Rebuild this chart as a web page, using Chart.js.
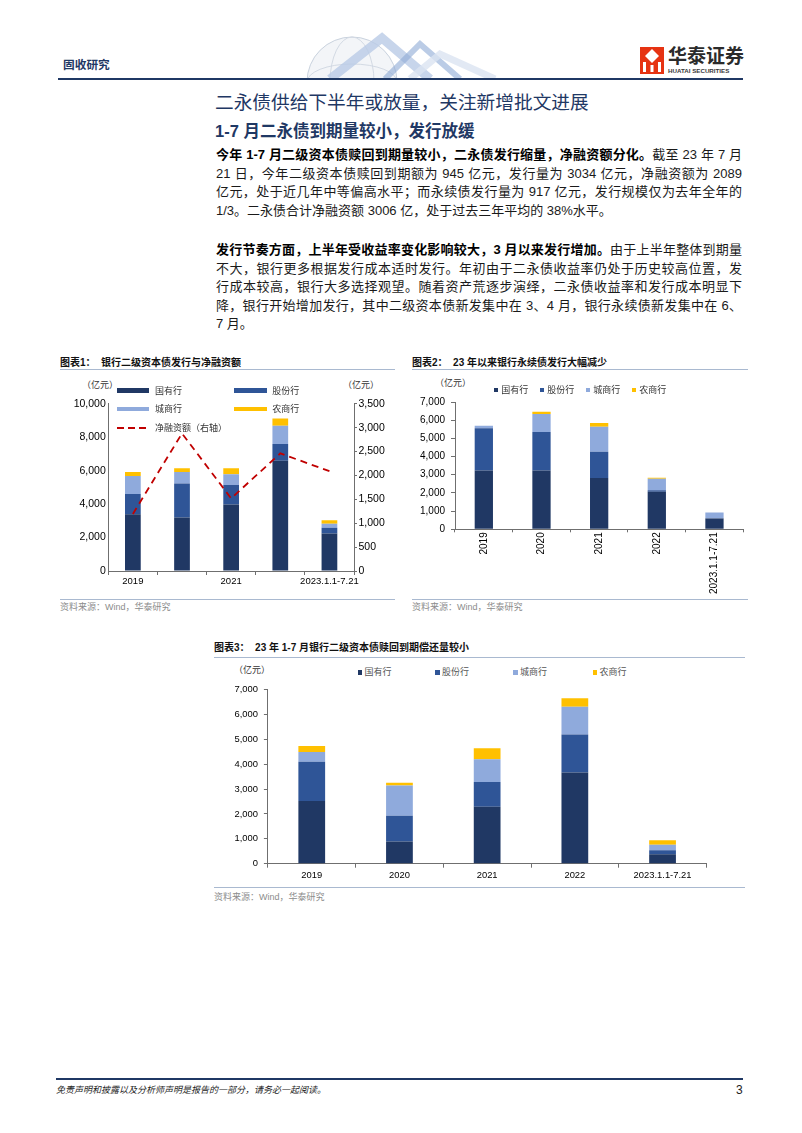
<!DOCTYPE html>
<html lang="zh-CN">
<head>
<meta charset="utf-8">
<title>固收研究</title>
<script src="https://cdn.jsdelivr.net/npm/chart.js@4.4.1/dist/chart.umd.min.js"></script>
<style>
  html, body { margin: 0; padding: 0; background: #fff; }
  #page { position: relative; width: 802px; height: 1133px; overflow: hidden; background: #fff;
          font-family: "Liberation Sans", Arial, "Noto Sans CJK SC", sans-serif; color: #1a1a1a; }
  .a { position: absolute; white-space: nowrap; }
  .navy { color: #1f3864; }
  .ln { position: absolute; left: 216px; width: 526px; height: 18.5px; line-height: 18.5px; font-size: 13px;
        text-align: justify; text-align-last: justify; }
  .ln.last { text-align-last: left; }
  .ln b { font-weight: bold; color: #000; }
  .ctitle { font-size: 10px; font-weight: bold; color: #111; line-height: 12px; }
  .src { font-size: 9px; color: #8c8c8c; line-height: 12px; }
  .rule { position: absolute; height: 1px; background: #a9b9d0; }
  .unit { font-size: 9px; color: #333; line-height: 12px; }
  .leg { font-size: 9px; color: #333; line-height: 12px; }
  canvas { position: absolute; }
</style>
</head>
<body>
<div id="page">
  <!-- ---------- HEADER ---------- -->
  <svg class="a" style="left:290px;top:30px" width="240" height="49">
    <circle cx="62" cy="52" r="45" fill="#f3f5f8" stroke="#c9d2de" stroke-width="1"/>
    <ellipse cx="62" cy="52" rx="22" ry="45" fill="none" stroke="#d3dae4" stroke-width="1"/>
    <ellipse cx="62" cy="52" rx="45" ry="18" fill="none" stroke="#d3dae4" stroke-width="1"/>
    <path d="M40 49 L92 8 L140 49" fill="none" stroke="#b9cbe6" stroke-width="9" opacity="0.8"/>
    <path d="M95 49 L130 14 L170 49" fill="none" stroke="#8eaad6" stroke-width="6" opacity="0.6"/>
    <path d="M120 49 L150 24 L205 49" fill="none" stroke="#dbe4f1" stroke-width="7" opacity="0.8"/>
  </svg>
  <div class="a navy" style="left:63px;top:58px;font-size:11.7px;font-weight:bold;line-height:14px;">固收研究</div>
  <div class="a" style="left:58px;top:78px;width:685px;height:2px;background:#1f3864;"></div>
  <svg class="a" style="left:640px;top:47px" width="24" height="27">
    <rect x="0" y="0" width="24" height="27" fill="#e63312"/>
    <polygon points="12,2 19,9 12,16 5,9" fill="#fff"/>
    <rect x="3" y="15" width="3" height="10" fill="#fff"/>
    <rect x="10.5" y="18" width="3" height="7" fill="#fff"/>
    <rect x="18" y="15" width="3" height="10" fill="#fff"/>
  </svg>
  <div class="a" style="left:668px;top:44px;font-size:19px;font-weight:bold;color:#2b2b2b;line-height:22px;font-family:'Noto Sans CJK SC';">华泰证券</div>
  <div class="a" style="left:668px;top:67px;font-size:6.2px;font-weight:bold;color:#3a3a3a;line-height:7px;">HUATAI SECURITIES</div>

  <!-- ---------- TITLES ---------- -->
  <div class="a navy" style="left:215px;top:91px;font-size:18.7px;line-height:24px;">二永债供给下半年或放量，关注新增批文进展</div>
  <div class="a navy" style="left:215px;top:120px;font-size:16.5px;font-weight:bold;line-height:22px;">1-7 月二永债到期量较小，发行放缓</div>

  <!-- ---------- BODY ---------- -->
  <div class="ln" style="top:146.2px;"><b>今年 1-7 月二级资本债赎回到期量较小，二永债发行缩量，净融资额分化。</b>截至 23 年 7 月</div>
  <div class="ln" style="top:164.7px;">21 日，今年二级资本债赎回到期额为 945 亿元，发行量为 3034 亿元，净融资额为 2089</div>
  <div class="ln" style="top:183.2px;">亿元，处于近几年中等偏高水平；而永续债发行量为 917 亿元，发行规模仅为去年全年的</div>
  <div class="ln last" style="top:201.7px;">1/3。二永债合计净融资额 3006 亿，处于过去三年平均的 38%水平。</div>

  <div class="ln" style="top:241.2px;"><b>发行节奏方面，上半年受收益率变化影响较大，3 月以来发行增加。</b>由于上半年整体到期量</div>
  <div class="ln" style="top:259.7px;">不大，银行更多根据发行成本适时发行。年初由于二永债收益率仍处于历史较高位置，发</div>
  <div class="ln" style="top:278.2px;">行成本较高，银行大多选择观望。随着资产荒逐步演绎，二永债收益率和发行成本明显下</div>
  <div class="ln" style="top:296.7px;">降，银行开始增加发行，其中二级资本债新发集中在 3、4 月，银行永续债新发集中在 6、</div>
  <div class="ln last" style="top:315.2px;">7 月。</div>

  <!-- ---------- CHART 1 ---------- -->
  <div class="a ctitle" style="left:60px;top:356.7px;">图表1：&nbsp;&nbsp;银行二级资本债发行与净融资额</div>
  <div class="rule" style="left:60px;top:369px;width:335px;"></div>
  <div class="a unit" style="left:82px;top:379px;">（亿元）</div>
  <div class="a unit" style="left:343px;top:379px;">（亿元）</div>
  <canvas id="c1" width="340" height="200" style="left:60px;top:395px;width:340px;height:200px;"></canvas>
  <div class="rule" style="left:60px;top:599px;width:335px;"></div>
  <div class="a src" style="left:60px;top:601px;">资料来源：Wind，华泰研究</div>

  <!-- ---------- CHART 2 ---------- -->
  <div class="a ctitle" style="left:412px;top:356.7px;">图表2：&nbsp;&nbsp;23 年以来银行永续债发行大幅减少</div>
  <div class="rule" style="left:412px;top:369px;width:336px;"></div>
  <div class="a unit" style="left:435px;top:377px;">（亿元）</div>
  <canvas id="c2" width="345" height="205" style="left:405px;top:390px;width:345px;height:205px;"></canvas>
  <div class="rule" style="left:412px;top:599px;width:336px;"></div>
  <div class="a src" style="left:412px;top:601px;">资料来源：Wind，华泰研究</div>

  <!-- ---------- CHART 3 ---------- -->
  <div class="a ctitle" style="left:214px;top:642px;">图表3：&nbsp;&nbsp;23 年 1-7 月银行二级资本债赎回到期偿还量较小</div>
  <div class="rule" style="left:214px;top:656.7px;width:531px;"></div>
  <div class="a unit" style="left:234px;top:664px;">（亿元）</div>
  <canvas id="c3" width="535" height="205" style="left:213px;top:678px;width:535px;height:205px;"></canvas>
  <div class="rule" style="left:214px;top:886.7px;width:531px;"></div>
  <div class="a src" style="left:214px;top:891px;">资料来源：Wind，华泰研究</div>

  <!-- ---------- FOOTER ---------- -->
  <div class="a" style="left:56px;top:1077.5px;width:687px;height:2px;background:#1f3864;"></div>
  <div class="a" style="left:56px;top:1084px;font-size:9px;font-style:italic;color:#222;line-height:12px;">免责声明和披露以及分析师声明是报告的一部分，请务必一起阅读。</div>
  <div class="a" style="left:736px;top:1083px;font-size:12px;color:#222;line-height:14px;">3</div>
</div>

<script>
// ---------- DATA ----------
const categories = ["2019", "2020", "2021", "2022", "2023.1.1-7.21"];
const seriesNames = ["国有行", "股份行", "城商行", "农商行"];
const netName = "净融资额（右轴）";

// 图表1: 二级资本债发行 (亿元)
const c1State = [3400, 3200, 3980, 6590, 2250];
const c1Joint = [1200, 2040, 1160, 1000, 340];
const c1City  = [1080, 680, 640, 1100, 240];
const c1Rural = [240, 230, 370, 430, 204];
const c1Net   = [1192, 2880, 1520, 2462, 2089];
const c1LeftTicks  = [0, 2000, 4000, 6000, 8000, 10000];
const c1RightTicks = [0, 500, 1000, 1500, 2000, 2500, 3000, 3500];

// 图表2: 永续债发行 (亿元)
const c2State = [3230, 3230, 2820, 2060, 590];
const c2Joint = [2320, 2120, 1450, 90, 20];
const c2City  = [140, 990, 1370, 630, 307];
const c2Rural = [0, 120, 210, 60, 0];
const c2Ticks = [0, 1000, 2000, 3000, 4000, 5000, 6000, 7000];

// 图表3: 二级资本债赎回到期 (亿元)
const c3State = [2520, 890, 2290, 3670, 380];
const c3Joint = [1580, 1040, 1000, 1530, 160];
const c3City  = [390, 1210, 910, 1110, 220];
const c3Rural = [240, 120, 440, 340, 185];
const c3Ticks = [0, 1000, 2000, 3000, 4000, 5000, 6000, 7000];

// ---------- STYLE ----------
const COLORS = ["#203864", "#2f5597", "#8faadc", "#ffc000"];
const NET_RED = "#c00000";
const AXIS = "#6f6f6f";
const FONT = '"Liberation Sans", Arial, sans-serif';
const page = document.getElementById("page");

function fmt(v) { return Number(v).toLocaleString("en-US"); }

function stacks(series, pct) {
    return series.map((data, i) => ({
        label: seriesNames[i],
        data: data,
        backgroundColor: COLORS[i],
        borderWidth: 0,
        categoryPercentage: 1,
        barPercentage: pct,
        stack: "s",
        yAxisID: "y",
        order: 1
    }));
}

function div(css, text) {
    const d = document.createElement("div");
    d.className = "a";
    Object.assign(d.style, css);
    if (text) d.textContent = text;
    page.appendChild(d);
    return d;
}

function yScale(ticks, width, opts) {
    return Object.assign({
        stacked: true,
        min: ticks[0],
        max: ticks[ticks.length - 1],
        afterBuildTicks: s => { s.ticks = ticks.map(v => ({ value: v })); },
        border: { display: true, color: AXIS, width: 1 },
        grid: { drawOnChartArea: false, drawTicks: true, tickLength: 4, color: AXIS },
        ticks: { color: "#000", padding: 5, font: { family: FONT, size: 10 }, callback: fmt },
        afterFit: s => { s.width = width; }
    }, opts || {});
}

function xScale(height, opts, tickOpts) {
    return Object.assign({
        stacked: true,
        border: { display: true, color: AXIS, width: 1 },
        grid: { offset: true, drawOnChartArea: false, drawTicks: true, tickLength: 4, color: AXIS },
        ticks: Object.assign({ color: "#000", autoSkip: false, maxRotation: 0, padding: 1,
                               font: { family: FONT, size: 9.5 } }, tickOpts || {}),
        afterFit: s => { s.height = height; }
    }, opts || {});
}

const base = {
    responsive: false,
    maintainAspectRatio: false,
    animation: false,
    plugins: { legend: { display: false }, tooltip: { enabled: false } }
};

// ---------- CHART 1 ----------
new Chart(document.getElementById("c1"), {
    type: "bar",
    data: {
        labels: categories,
        datasets: [
            {
                type: "line",
                label: netName,
                data: c1Net,
                yAxisID: "y1",
                borderColor: NET_RED,
                borderWidth: 1.8,
                borderDash: [7, 5],
                pointRadius: 0,
                tension: 0,
                fill: false,
                order: 0
            },
            ...stacks([c1State, c1Joint, c1City, c1Rural], 0.32)
        ]
    },
    options: Object.assign({}, base, {
        layout: { padding: { top: 8.7, left: 0, right: 0, bottom: 0 } },
        scales: {
            x: xScale(24, {}, {
                callback: function (v, i) { return i % 2 === 0 ? this.getLabelForValue(v) : ""; }
            }),
            y: yScale(c1LeftTicks, 48.3, {
                grid: { drawOnChartArea: false, drawTicks: false, color: AXIS },
                ticks: { color: "#000", padding: 2.5, font: { family: FONT, size: 10.5 }, callback: fmt }
            }),
            y1: yScale(c1RightTicks, 46, {
                stacked: false,
                position: "right",
                grid: { drawOnChartArea: false, drawTicks: true, tickLength: 3, color: AXIS },
                ticks: { color: "#000", padding: 1.5, font: { family: FONT, size: 10.5 }, callback: fmt }
            })
        }
    })
});

// legend for chart 1 (two columns + dashed line row)
const leg1Pos = [[116.7, 390.7], [234, 390.7], [116.7, 409.2], [234, 409.2]];
seriesNames.forEach((n, i) => {
    const [x, y] = leg1Pos[i];
    div({ left: x + "px", top: (y - 2.3) + "px", width: "32.7px", height: "4.6px", background: COLORS[i] });
    div({ left: (x + 38.3) + "px", top: (y - 6) + "px", fontSize: "9px", lineHeight: "12px", color: "#333" }, n);
});
div({ left: "116.7px", top: "426.8px", width: "32.7px", height: "1.8px",
      background: "repeating-linear-gradient(to right," + NET_RED + " 0 7px, transparent 7px 11px)" });
div({ left: "155px", top: "421.7px", fontSize: "9px", lineHeight: "12px", color: "#333" }, netName);

// ---------- CHART 2 ----------
new Chart(document.getElementById("c2"), {
    type: "bar",
    data: {
        labels: categories,
        datasets: stacks([c2State, c2Joint, c2City, c2Rural], 0.317)
    },
    options: Object.assign({}, base, {
        layout: { padding: { top: 9.3, left: 0, right: 6.7, bottom: 0 } },
        scales: {
            x: xScale(65.7, {
                grid: { offset: true, drawOnChartArea: false, drawTicks: true, tickLength: 3, color: AXIS }
            }, { minRotation: 90, maxRotation: 90, padding: 0, font: { family: FONT, size: 10 } }),
            y: yScale(c2Ticks, 50, {
                ticks: { color: "#000", padding: 6, font: { family: FONT, size: 10 }, callback: fmt }
            })
        }
    })
});

const leg2X = [494.3, 540.3, 586.3, 632.3];
seriesNames.forEach((n, i) => {
    div({ left: leg2X[i] + "px", top: "388px", width: "4px", height: "4px", background: COLORS[i] });
    div({ left: (leg2X[i] + 7) + "px", top: "384px", fontSize: "9px", lineHeight: "12px", color: "#333" }, n);
});

// ---------- CHART 3 ----------
new Chart(document.getElementById("c3"), {
    type: "bar",
    data: {
        labels: categories,
        datasets: stacks([c3State, c3Joint, c3City, c3Rural], 0.305)
    },
    options: Object.assign({}, base, {
        layout: { padding: { top: 8, left: 0, right: 41.6, bottom: 0 } },
        scales: {
            x: xScale(19.3, {}, { padding: 2, font: { family: FONT, size: 9.4 } }),
            y: yScale(c3Ticks, 54.9, {
                ticks: { color: "#000", padding: 6, font: { family: FONT, size: 9.4 }, callback: fmt }
            })
        }
    })
});

const leg3X = [357.5, 435, 513, 592.5];
seriesNames.forEach((n, i) => {
    div({ left: leg3X[i] + "px", top: "670px", width: "4.5px", height: "4.5px", background: COLORS[i] });
    div({ left: (leg3X[i] + 7) + "px", top: "666.3px", fontSize: "9px", lineHeight: "12px", color: "#555" }, n);
});
</script>
</body>
</html>
